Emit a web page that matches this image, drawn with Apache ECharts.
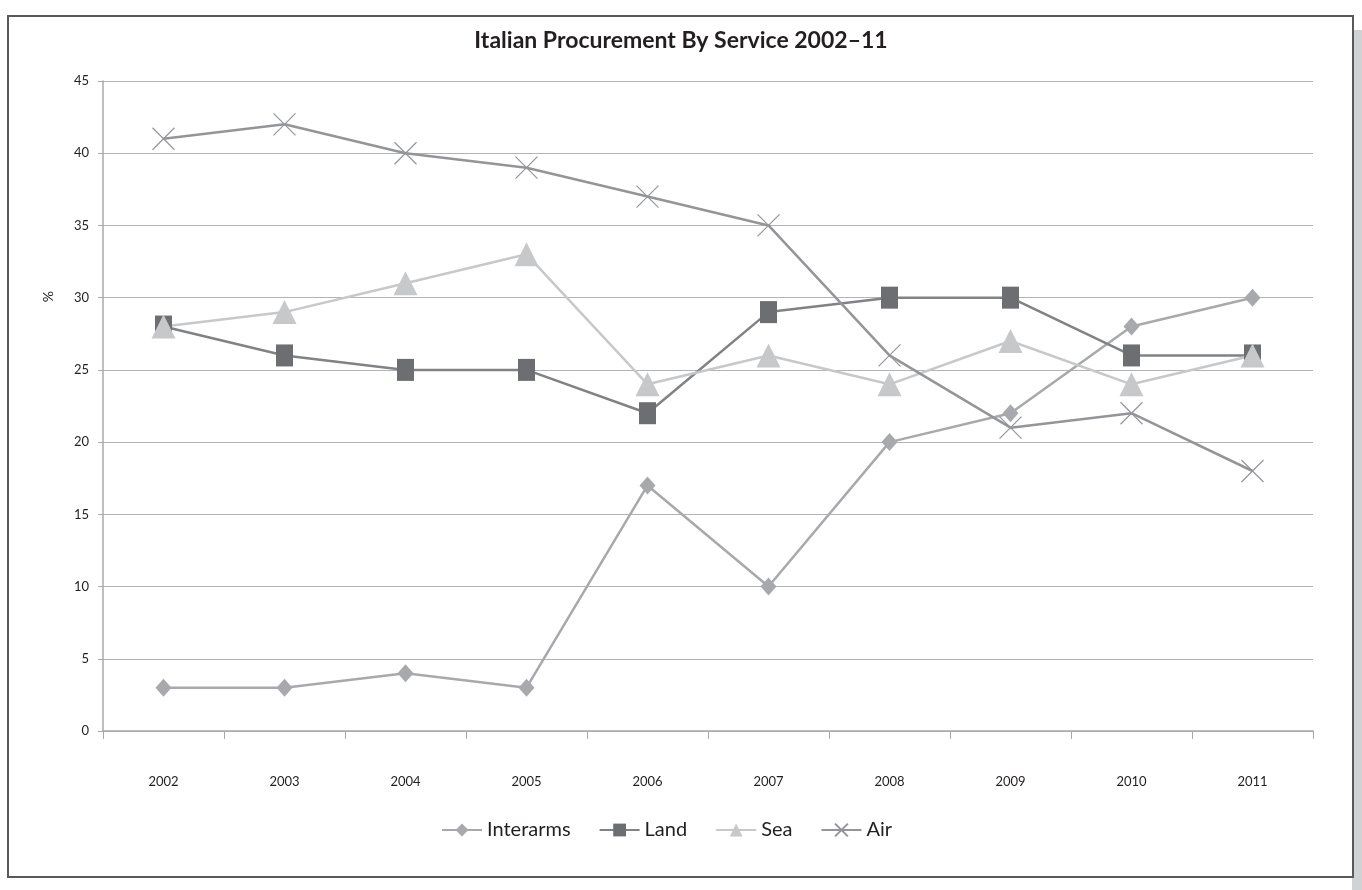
<!DOCTYPE html>
<html>
<head>
<meta charset="utf-8">
<script src="https://cdn.jsdelivr.net/npm/echarts@6/dist/echarts.min.js"></script>
<style>
  html, body { margin: 0; padding: 0; background: #fff; }
  #shadow { position: absolute; left: 1352px; top: 30px; width: 10px; height: 860px; background: #d1d2d4; }
  #frame { position: absolute; left: 7px; top: 15px; width: 1343px; height: 859px; border: 2px solid #58595b; background: #fff; }
  #main { position: absolute; left: 0; top: 0; width: 1362px; height: 890px; }
</style>
</head>
<body>
<div id="shadow"></div>
<div id="frame"></div>
<div id="main"></div>
<script>
var chartDom = document.getElementById('main');
var myChart = echarts.init(chartDom);
var option;

var years = ['2002', '2003', '2004', '2005', '2006', '2007', '2008', '2009', '2010', '2011'];
var interarms = [3, 3, 4, 3, 17, 10, 20, 22, 28, 30];
var land = [28, 26, 25, 25, 22, 29, 30, 30, 26, 26];
var sea = [28, 29, 31, 33, 24, 26, 24, 27, 24, 26];
var air = [41, 42, 40, 39, 37, 35, 26, 21, 22, 18];

var font = 'Lato, "Open Sans", sans-serif';

option = {
  animation: false,
  title: {
    text: 'Italian Procurement By Service 2002\u201311',
    left: 'center',
    top: 24,
    textStyle: { fontFamily: font, fontWeight: 'bold', fontSize: 23, color: '#231f20' }
  },
  legend: {
    bottom: 45,
    left: 436,
    itemWidth: 40,
    itemHeight: 16,
    itemGap: 28,
    textStyle: { fontFamily: font, fontSize: 20, color: '#231f20' },
    data: ['Interarms', 'Land', 'Sea', 'Air']
  },
  grid: { left: 103, right: 49, top: 81, bottom: 159 },
  xAxis: {
    type: 'category',
    data: years,
    boundaryGap: true,
    axisLine: { lineStyle: { color: '#a7a9ac', width: 1.5 } },
    axisTick: { show: true, length: 8, lineStyle: { color: '#a7a9ac' } },
    axisLabel: { margin: 44, fontFamily: font, fontSize: 13, color: '#231f20' }
  },
  yAxis: {
    type: 'value',
    min: 0,
    max: 45,
    interval: 5,
    axisLine: { show: true, lineStyle: { color: '#a7a9ac', width: 1.5 } },
    axisTick: { show: true, length: 5, lineStyle: { color: '#a7a9ac' } },
    axisLabel: { margin: 14, fontFamily: font, fontSize: 13, color: '#231f20' },
    splitLine: { lineStyle: { color: '#b1b3b6', width: 1.2 } }
  },
  graphic: [
    {
      type: 'text',
      left: 41,
      top: 291,
      rotation: Math.PI / 2,
      style: { text: '%', fontFamily: font, fontSize: 14, fill: '#231f20' }
    }
  ],
  series: [
    {
      name: 'Interarms',
      type: 'line',
      data: interarms,
      symbol: 'diamond',
      symbolSize: [16, 18],
      lineStyle: { color: '#a7a9ac', width: 2.5 },
      itemStyle: { color: '#a7a9ac' }
    },
    {
      name: 'Land',
      type: 'line',
      data: land,
      symbol: 'rect',
      symbolSize: [17, 22],
      lineStyle: { color: '#808285', width: 2.5 },
      itemStyle: { color: '#6d6e71' }
    },
    {
      name: 'Sea',
      type: 'line',
      data: sea,
      symbol: 'triangle',
      symbolSize: [24, 24],
      lineStyle: { color: '#c7c8ca', width: 2.5 },
      itemStyle: { color: '#c7c8ca' }
    },
    {
      name: 'Air',
      type: 'line',
      data: air,
      symbol: 'path://M0,0L10,10M10,0L0,10',
      symbolSize: [22, 22],
      lineStyle: { color: '#939598', width: 2.5 },
      itemStyle: { color: 'none', borderColor: '#939598', borderWidth: 1.2 }
    }
  ]
};

option && myChart.setOption(option);
</script>
</body>
</html>
